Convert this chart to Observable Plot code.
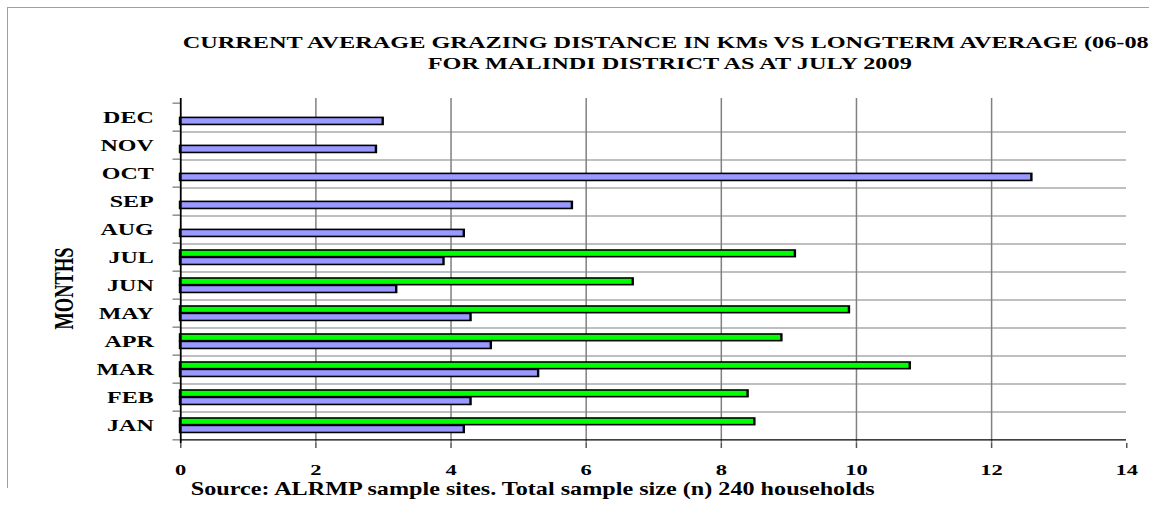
<!DOCTYPE html>
<html>
<head>
<meta charset="utf-8">
<script src="https://cdn.jsdelivr.net/npm/d3@7"></script>
<script src="https://cdn.jsdelivr.net/npm/@observablehq/plot@0.6"></script>
<style>
  html, body { margin: 0; padding: 0; background: white; }
  #wrap { position: relative; width: 1149px; height: 506px; overflow: hidden; background: white; }
  #border { position: absolute; left: 7px; top: 7px; width: 1200px; height: 480px;
            border-top: 1px solid #a0a0a0; border-left: 1px solid #a0a0a0; pointer-events: none; }
</style>
</head>
<body>
<div id="wrap"><div id="border"></div></div>
<script>
// ---- data ----
const months = ["DEC","NOV","OCT","SEP","AUG","JUL","JUN","MAY","APR","MAR","FEB","JAN"];
const longterm = [3.0, 2.9, 12.6, 5.8, 4.2, 3.9, 3.2, 4.3, 4.6, 5.3, 4.3, 4.2];
const currentMonths = ["JUL","JUN","MAY","APR","MAR","FEB","JAN"];
const current = [9.1, 6.7, 9.9, 8.9, 10.8, 8.4, 8.5];
const xTicks = [0, 2, 4, 6, 8, 10, 12, 14];
const gridX = [2, 4, 6, 8, 10, 12];
const titleLines = [
  "CURRENT AVERAGE GRAZING DISTANCE IN KMs VS LONGTERM AVERAGE (06-08)",
  "FOR MALINDI DISTRICT AS AT JULY 2009"
];
const yTitle = "MONTHS";
const source = "Source: ALRMP sample sites. Total sample size (n) 240 households";

const longData = months.map((m, i) => ({month: m, value: longterm[i]}));
const curData = currentMonths.map((m, i) => ({month: m, value: current[i]}));

// The reference is horizontally stretched; draw at a narrower inner width and stretch.
const K = 1.5;
const W = 1149, H = 506;
const innerW = W / K;
const mTop = 98, mBottom = 63, mLeft = 180 / K, mRight = (W - 1126) / K;
const bw = (H - mTop - mBottom) / months.length;
const font = "'Liberation Serif', 'Times New Roman', Times, serif";

const chart = Plot.plot({
  width: innerW,
  height: H,
  marginTop: mTop, marginBottom: mBottom, marginLeft: mLeft, marginRight: mRight,
  x: {domain: [0, 14]},
  y: {domain: months, padding: 0},
  style: {fontFamily: font, fontWeight: "bold", fontSize: "16px", color: "black", background: "white", overflow: "visible"},
  marks: [
    // gridlines
    Plot.ruleX(gridX, {stroke: "#808080", strokeWidth: 1}),
    Plot.ruleY(months.slice(0, -1), {dy: bw / 2, stroke: "#808080", strokeWidth: 1}),
    // bars
    Plot.barX(curData, {y: "month", x: "value", fill: "#00ff00", stroke: "black", strokeWidth: 1.6, insetTop: 7, insetBottom: bw - 14.4}),
    Plot.barX(longData, {y: "month", x: "value", fill: "#9999ff", stroke: "black", strokeWidth: 1.6, insetTop: 14.4, insetBottom: bw - 22.2}),
    // axes lines
    Plot.ruleX([0], {stroke: "black", strokeWidth: 1.2}),
    Plot.ruleY([months[months.length - 1]], {dy: bw / 2, stroke: "black", strokeWidth: 1.2}),
    // y boundary ticks
    Plot.ruleY(months, {dy: -bw / 2, x1: 0, x2: 0, insetLeft: -5, stroke: "#555"}),
    Plot.ruleY([months[months.length - 1]], {dy: bw / 2, x1: 0, x2: 0, insetLeft: -5, stroke: "#555"}),
    // axes
    Plot.axisX({ticks: xTicks, tickSize: 5, tickPadding: 16, stroke: "#555", fontSize: 15, label: null, tickFormat: d => String(d)}),
    Plot.axisY({tickSize: 0, tickPadding: 18, fontSize: 16, label: null}),
    // titles
    Plot.text([titleLines[0]], {frameAnchor: "top-left", dx: 669 / K - mLeft, dy: -56, text: d => d, textAnchor: "middle", lineAnchor: "middle", fontSize: 16.2, fontWeight: "bold"}),
    Plot.text([titleLines[1]], {frameAnchor: "top-left", dx: 669 / K - mLeft, dy: -35, text: d => d, textAnchor: "middle", lineAnchor: "middle", fontSize: 16.2, fontWeight: "bold"}),
    Plot.text([yTitle], {frameAnchor: "left", dx: 63 / K - mLeft, dy: 17.5, text: d => d, rotate: -90, textAnchor: "middle", lineAnchor: "middle", fontSize: 18.5, fontWeight: "bold"}),
    Plot.text([source], {frameAnchor: "bottom-left", dx: 532 / K - mLeft, dy: 45.5, text: d => d, textAnchor: "middle", lineAnchor: "middle", fontSize: 18, fontWeight: "bold"})
  ]
});

chart.setAttribute("width", W);
chart.setAttribute("height", H);
chart.setAttribute("viewBox", `0 0 ${innerW} ${H}`);
chart.setAttribute("preserveAspectRatio", "none");
chart.style.width = W + "px";
chart.style.height = H + "px";
chart.style.maxWidth = "none";
chart.style.display = "block";
chart.style.position = "absolute";
chart.style.left = "0px";
chart.style.top = "0px";
chart.style.background = "transparent";
document.getElementById("wrap").insertBefore(chart, document.getElementById("border"));

// Source line: larger glyphs, same overall length as in the reference
chart.querySelectorAll("text").forEach(t => {
  if (t.textContent === source) {
    t.setAttribute("textLength", (684 / K).toFixed(1));
    t.setAttribute("lengthAdjust", "spacingAndGlyphs");
  }
});
</script>
</body>
</html>
